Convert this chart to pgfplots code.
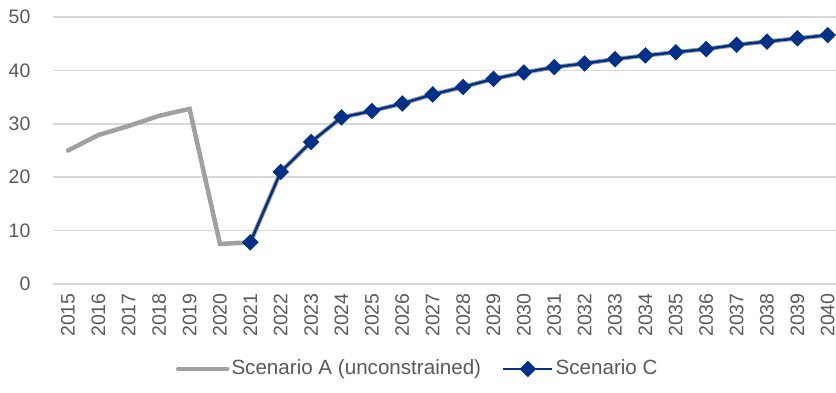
\documentclass[border=0pt]{standalone}
\usepackage{fontspec}
\setmainfont{Liberation Sans}
\usepackage{pgfplots}
\pgfplotsset{compat=1.18}
\usetikzlibrary{calc}
\definecolor{scenA}{RGB}{160,160,160}
\definecolor{scenC}{RGB}{0,48,135}
\definecolor{txt}{RGB}{89,89,89}
\definecolor{gridc}{RGB}{217,217,217}
\begin{document}
\begin{tikzpicture}[font=\fontsize{9.75}{11}\selectfont]
\begin{axis}[
    scale only axis,
    width=391.6pt, height=133.5pt,
    xmin=2014.5, xmax=2040.27,
    ymin=0, ymax=50,
    ytick={0,10,...,50},
    xtick={2015,...,2040},
    axis line style={draw=none},
    major tick length=0pt,
    ymajorgrids,
    grid style={gridc, line width=0.75pt},
    /pgf/number format/assume math mode=true,
    /pgf/number format/1000 sep={},
    tick label style={text=txt},
    xticklabel style={rotate=90, anchor=east, inner sep=0pt},
    yticklabel style={anchor=east, inner sep=0pt},
    xticklabel shift=4.5pt,
    yticklabel shift=11pt,
    legend columns=2,
    legend style={draw=none, fill=none, text=txt, at={(0.466,-0.318)}, anchor=center,
        font=\fontsize{10.3}{12}\selectfont,
        /tikz/every even column/.append style={column sep=9.5pt},
        inner sep=0pt, nodes={inner sep=1pt}},
    legend image code/.code={
        \draw[mark repeat=2, mark phase=2, #1] plot coordinates {(0pt,0pt) (12.25pt,0pt) (24.5pt,0pt)};
    },
]
\addplot[scenA, line width=2.25pt, line cap=round, no marks] coordinates {
(2015,25.0) (2016,27.9) (2017,29.6) (2018,31.5) (2019,32.8) (2020,7.5)
(2021,7.8) (2022,21.0) (2023,26.6) (2024,31.2) (2025,32.4) (2026,33.8)
(2027,35.5) (2028,36.9) (2029,38.4) (2030,39.6) (2031,40.6) (2032,41.3)
(2033,42.1) (2034,42.8) (2035,43.4) (2036,44.0) (2037,44.8) (2038,45.4)
(2039,46.0) (2040,46.6)};
\addplot[scenC, line width=1.25pt, mark=square*, mark size=2.3pt,
    mark options={rotate=45, solid, fill=scenC}] coordinates {
(2021,7.8) (2022,21.0) (2023,26.6) (2024,31.2) (2025,32.4) (2026,33.8)
(2027,35.5) (2028,36.9) (2029,38.4) (2030,39.6) (2031,40.6) (2032,41.3)
(2033,42.1) (2034,42.8) (2035,43.4) (2036,44.0) (2037,44.8) (2038,45.4)
(2039,46.0) (2040,46.6)};
\legend{Scenario A (unconstrained), Scenario C}
\end{axis}
\pgfresetboundingbox
\useasboundingbox ($(current axis.south west)+(-26.4pt,-54pt)$) rectangle ($(current axis.north east)+(0pt,8.5pt)$);
\end{tikzpicture}
\end{document}
